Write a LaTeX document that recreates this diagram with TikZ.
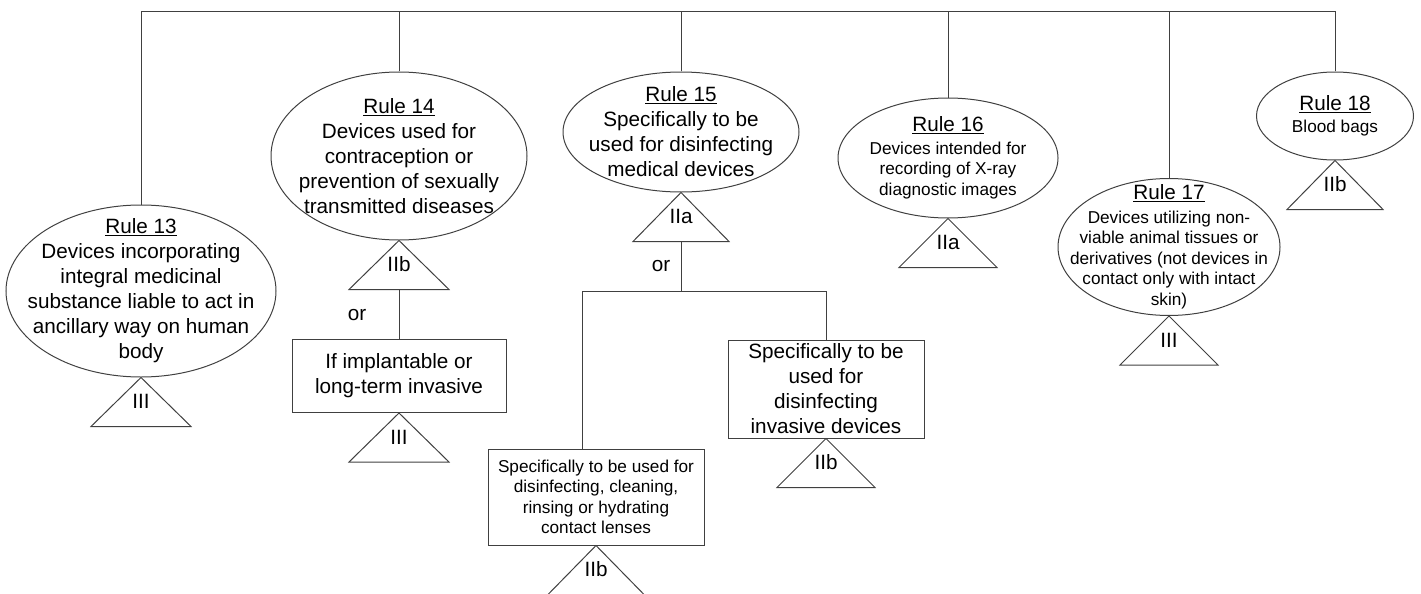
\documentclass[tikz,border=0pt]{standalone}
\usepackage{fontspec}
\setmainfont{Liberation Sans}
\usetikzlibrary{shapes.geometric, positioning}
\newcommand{\smalltext}{\fontsize{17.2}{20.5}\selectfont}
\newcommand{\ruletitle}[1]{{\fontsize{20.7}{25}\selectfont\underline{#1}}}

\begin{document}
\begin{tikzpicture}[
        x=1pt, y=-1pt,
        font=\fontsize{20.7}{25}\selectfont,
        line/.style={draw=black!75, line width=1pt},
        rule/.style={
            ellipse,
            line,
            align=center,
            inner sep=-40pt
        },
        outcome/.style={
            rectangle,
            line,
            align=center,
            inner sep=2pt
        },
        grade/.style={inner sep=0pt},
        note/.style={inner sep=0pt}
    ]
    \useasboundingbox (0,0) rectangle (1421,594);

    % Top bar
    \coordinate (bus) at (0,12);

    % Rule 13: medicinal substance
    \node[rule, minimum width=270pt, minimum height=172pt] (r13) at (141,291) {\underline{Rule 13}\\Devices incorporating\\integral medicinal\\substance liable to act in\\ancillary way on human\\body};
    \draw[line] (r13.south) -- ++(-50,49) -- ++(100,0) -- cycle;
    \node[grade] (g13) at ([yshift=-24pt]r13.south) {III};

    % Rule 14: contraception
    \node[rule, minimum width=256pt, minimum height=168pt] (r14) at (399,156) {\underline{Rule 14}\\Devices used for\\contraception or\\prevention of sexually\\transmitted diseases};
    \draw[line] (r14.south) -- ++(-50,49) -- ++(100,0) -- cycle;
    \node[grade] (g14) at ([yshift=-24pt]r14.south) {IIb};
    \coordinate (t14) at ([yshift=-49pt]r14.south);
    \node[outcome, minimum width=214pt, minimum height=73pt] (b14) at (399,376) {If implantable or\\long-term invasive};
    \draw[line] (t14) -- (b14);
    \node[note] (or14) at (357,315) {or};
    \draw[line] (b14.south) -- ++(-50,49) -- ++(100,0) -- cycle;
    \node[grade] (g14b) at ([yshift=-24pt]b14.south) {III};

    % Rule 15: disinfecting
    \node[rule, minimum width=236pt, minimum height=120pt] (r15) at (681,132) {\underline{Rule 15}\\Specifically to be\\used for disinfecting\\medical devices};
    \draw[line] (r15.south) -- ++(-48,49) -- ++(96,0) -- cycle;
    \node[grade] (g15) at ([yshift=-24pt]r15.south) {IIa};
    \coordinate (t15) at ([yshift=-49pt]r15.south);
    \coordinate (j15) at (681,291);
    \coordinate (l15) at (582,291);
    \coordinate (k15) at (826,291);
    \draw[line] (t15) -- (j15);
    \draw[line] (l15) -- (k15);
    \node[note] (or15) at (661,266) {or};

    \node[outcome, minimum width=216pt, minimum height=96pt, font=\smalltext] (c15a) at (596,497) {Specifically to be used for\\disinfecting, cleaning,\\rinsing or hydrating\\contact lenses};
    \draw[line] (l15) -- (l15 |- c15a.north);
    \draw[line] (c15a.south) -- ++(-48,49) -- ++(96,0) -- cycle;
    \node[grade] (g15a) at ([yshift=-24pt]c15a.south) {IIb};

    \node[outcome, minimum width=196pt, minimum height=98pt] (c15b) at (826,389) {Specifically to be\\used for\\disinfecting\\invasive devices};
    \draw[line] (k15) -- (c15b);
    \draw[line] (c15b.south) -- ++(-49,49) -- ++(98,0) -- cycle;
    \node[grade] (g15b) at ([yshift=-24pt]c15b.south) {IIb};

    % Rule 16: X-ray recording
    \node[rule, minimum width=220pt, minimum height=120pt, font=\smalltext] (r16) at (948,158) {\ruletitle{Rule 16}\\[2pt]Devices intended for\\recording of X-ray\\diagnostic images};
    \draw[line] (r16.south) -- ++(-49,49) -- ++(98,0) -- cycle;
    \node[grade] (g16) at ([yshift=-24pt]r16.south) {IIa};

    % Rule 17: animal tissues
    \node[rule, minimum width=222pt, minimum height=137pt, font=\smalltext] (r17) at (1169,247) {\ruletitle{Rule 17}\\[3pt]Devices utilizing non-\\viable animal tissues or\\derivatives (not devices in\\contact only with intact\\skin)};
    \draw[line] (r17.south) -- ++(-49,49) -- ++(98,0) -- cycle;
    \node[grade] (g17) at ([yshift=-24pt]r17.south) {III};

    % Rule 18: blood bags
    \node[rule, minimum width=157pt, minimum height=88pt, font=\smalltext] (r18) at (1335,116) {\ruletitle{Rule 18}\\[2pt]Blood bags};
    \draw[line] (r18.south) -- ++(-48,49) -- ++(96,0) -- cycle;
    \node[grade] (g18) at ([yshift=-24pt]r18.south) {IIb};

    % Connectors from the top bar
    \draw[line] (r13.north) -- (r13.north |- bus) -- (r18.north |- bus) -- (r18.north);
    \draw[line] (r14.north) -- (r14.north |- bus);
    \draw[line] (r15.north) -- (r15.north |- bus);
    \draw[line] (r16.north) -- (r16.north |- bus);
    \draw[line] (r17.north) -- (r17.north |- bus);

\end{tikzpicture}
\end{document}
